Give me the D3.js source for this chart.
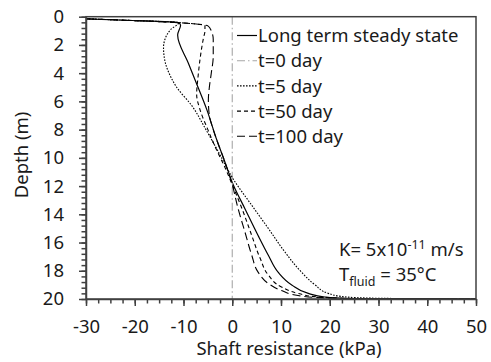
<!DOCTYPE html>
<html>
<head>
<meta charset="UTF-8">
<title>Shaft resistance vs depth</title>
<script src="https://d3js.org/d3.v7.min.js"></script>
<style>
	body { margin: 0; background: #fff; }
	.chart { font-family: "Noto Sans", sans-serif; font-size: 18.5px; fill: #1a1a1a; }
	.axis path, .axis line { stroke: #404040; stroke-width: 1.5; }
	.axis text { font-family: "Noto Sans", sans-serif; font-size: 18.5px; fill: #1a1a1a; }
</style>
</head>
<body>
<svg class="chart" width="491" height="362"></svg>
<script>
	//------------------------------------------------------------------
	// Data
	var seriesNames = ["Long term steady state", "t=0 day", "t=5 day", "t=50 day", "t=100 day"];

	var steadyDepth = [0.15, 0.25, 0.42, 0.6, 1.3, 3.3, 4.5, 6.6, 8.7, 10.2, 11.9, 13.6, 15.5, 16.9, 18.1, 19.0, 19.6, 19.86, 19.96, 19.99];
	var steadyShaft = [-30, -22, -11, -10.6, -11.2, -9.0, -7.6, -5.2, -3.2, -1.6, 0.2, 2.6, 5.3, 7.4, 9.4, 12.2, 15.6, 19.0, 23.5, 50];

	var day0Depth = [0, 20];
	var day0Shaft = [0, 0];

	var day5Depth = [0.15, 0.25, 0.42, 0.9, 1.6, 2.2, 3.3, 4.2, 5.0, 6.3, 8.0, 9.6, 11.5, 13.36, 15.0, 16.67, 18.1, 19.0, 19.6, 19.85, 19.95, 19.99];
	var day5Shaft = [-30, -22, -11, -12.6, -13.8, -14.1, -13.7, -12.7, -11.4, -8.3, -5.4, -2.8, 0.2, 4.0, 7.4, 10.8, 14.2, 17.0, 19.7, 23.1, 30, 50];

	var day50Depth = [0.15, 0.25, 0.42, 0.5, 0.6, 1.0, 1.5, 2.5, 4.2, 5.5, 6.6, 8.0, 9.3, 10.6, 11.9, 13.6, 15.5, 17.1, 18.3, 19.15, 19.6, 19.86, 19.97, 19.99];
	var day50Shaft = [-30, -22, -11, -8, -5.6, -5.6, -5.9, -6.4, -7.0, -7.3, -6.6, -5.0, -3.4, -1.6, 0.0, 2.0, 4.0, 5.7, 7.4, 10.1, 13.5, 17.6, 25, 50];

	var day100Depth = [0.15, 0.25, 0.42, 0.5, 0.65, 1.0, 1.6, 2.8, 4.0, 5.0, 5.9, 7.0, 8.0, 9.0, 10.2, 11.9, 13.6, 15.25, 16.9, 18.1, 18.9, 19.4, 19.75, 19.9, 19.98, 19.99];
	var day100Shaft = [-30, -22, -11, -8, -5.0, -4.3, -3.9, -3.9, -4.3, -4.7, -4.9, -4.7, -3.9, -2.9, -1.6, 0.0, 1.2, 2.6, 4.0, 5.3, 7.4, 10.1, 13.5, 17.6, 25, 50];

	var xTicks = [-30, -20, -10, 0, 10, 20, 30, 40, 50];
	var yTicks = [0, 2, 4, 6, 8, 10, 12, 14, 16, 18, 20];

	//------------------------------------------------------------------
	var chart = d3.select(".chart"),
		margin = {top: 16.7, right: 15, bottom: 63, left: 86},
		width = +chart.attr("width") - margin.left - margin.right,
		height = +chart.attr("height") - margin.top - margin.bottom;

	var x = d3.scaleLinear().domain([-30, 50]).range([margin.left, margin.left + width]);
	var y = d3.scaleLinear().domain([0, 20]).range([margin.top, margin.top + height]);

	var series = [
		{name: seriesNames[0], depth: steadyDepth, shaft: steadyShaft, color: "#000", dash: null, w: 1.2},
		{name: seriesNames[1], depth: day0Depth, shaft: day0Shaft, color: "#a6a6a6", dash: "8,3,1.5,3", w: 1.1},
		{name: seriesNames[2], depth: day5Depth, shaft: day5Shaft, color: "#000", dash: "1.6,1.4", w: 1.1},
		{name: seriesNames[3], depth: day50Depth, shaft: day50Shaft, color: "#000", dash: "4,3", w: 1.1},
		{name: seriesNames[4], depth: day100Depth, shaft: day100Shaft, color: "#000", dash: "8,4", w: 1.1}
	];

	chart.append("rect").attr("width", 491).attr("height", 362).attr("fill", "#fff");

	chart.append("clipPath").attr("id", "plot")
		.append("rect")
		.attr("x", x(-30)).attr("y", y(0))
		.attr("width", width).attr("height", height);

	//==================================================================
	// Curves
	//==================================================================
	var line = d3.line()
		.x(function(d) { return x(d[0]); })
		.y(function(d) { return y(d[1]); })
		.curve(d3.curveMonotoneY);

	chart.append("g")
		.attr("clip-path", "url(#plot)")
		.selectAll("path")
		.data(series)
		.enter().append("path")
		.attr("fill", "none")
		.attr("stroke", function(d) { return d.color; })
		.attr("stroke-width", function(d) { return d.w; })
		.attr("stroke-dasharray", function(d) { return d.dash; })
		.attr("d", function(d) { return line(d.shaft.map(function(v, i) { return [v, d.depth[i]]; })); });

	//==================================================================
	// Axes
	//==================================================================
	chart.append("rect")
		.attr("x", x(-30)).attr("y", y(0))
		.attr("width", width).attr("height", height)
		.attr("fill", "none")
		.attr("stroke", "#404040")
		.attr("stroke-width", 1.5);

	// minor ticks
	chart.append("g")
		.attr("class", "axis")
		.attr("transform", "translate(0," + y(20) + ")")
		.call(d3.axisBottom(x).tickValues(d3.range(-30, 50.01, 2.5)).tickSize(4.5).tickFormat(""))
		.select(".domain").remove();

	chart.append("g")
		.attr("class", "axis")
		.attr("transform", "translate(" + x(-30) + ",0)")
		.call(d3.axisLeft(y).tickValues(d3.range(0, 20.01, 0.4)).tickSize(4.5).tickFormat(""))
		.select(".domain").remove();

	// major ticks + labels (plain hyphen for the minus sign, like the original)
	chart.append("g")
		.attr("class", "axis")
		.attr("transform", "translate(0," + y(20) + ")")
		.call(d3.axisBottom(x).tickValues(xTicks).tickSize(7).tickSizeOuter(0).tickPadding(14)
			.tickFormat(function(d) { return String(d); }));

	chart.append("g")
		.attr("class", "axis")
		.attr("transform", "translate(" + x(-30) + ",0)")
		.call(d3.axisLeft(y).tickValues(yTicks).tickSize(7).tickSizeOuter(0).tickPadding(15)
			.tickFormat(function(d) { return String(d); }));

	chart.append("text")
		.attr("x", 289)
		.attr("y", 355)
		.attr("text-anchor", "middle")
		.text("Shaft resistance (kPa)");

	chart.append("text")
		.attr("transform", "translate(28,155) rotate(-90)")
		.attr("text-anchor", "middle")
		.text("Depth (m)");

	//==================================================================
	// Legend
	//==================================================================
	var legend = chart.append("g")
		.selectAll("g")
		.data(series)
		.enter().append("g")
		.attr("transform", function(d, i) { return "translate(237," + (35.5 + i * 25.2) + ")"; });

	legend.append("line")
		.attr("x1", 0).attr("x2", 20)
		.attr("stroke", function(d) { return d.color; })
		.attr("stroke-width", function(d) { return d.w; })
		.attr("stroke-dasharray", function(d) { return d.dash; });

	legend.append("text")
		.attr("x", 21)
		.attr("dy", "0.36em")
		.text(function(d) { return d.name; });

	//==================================================================
	// Annotation
	//==================================================================
	var k = chart.append("text").attr("x", 339).attr("y", 256);
	k.append("tspan").text("K= 5x10");
	k.append("tspan").attr("dy", -7).attr("font-size", "12.5px").text("-11");
	k.append("tspan").attr("dy", 7).text(" m/s");

	var t = chart.append("text").attr("x", 339).attr("y", 281);
	t.append("tspan").text("T");
	t.append("tspan").attr("dy", 5).attr("font-size", "12.5px").text("fluid");
	t.append("tspan").attr("dy", -5).text(" = 35°C");
</script>
</body>
</html>
